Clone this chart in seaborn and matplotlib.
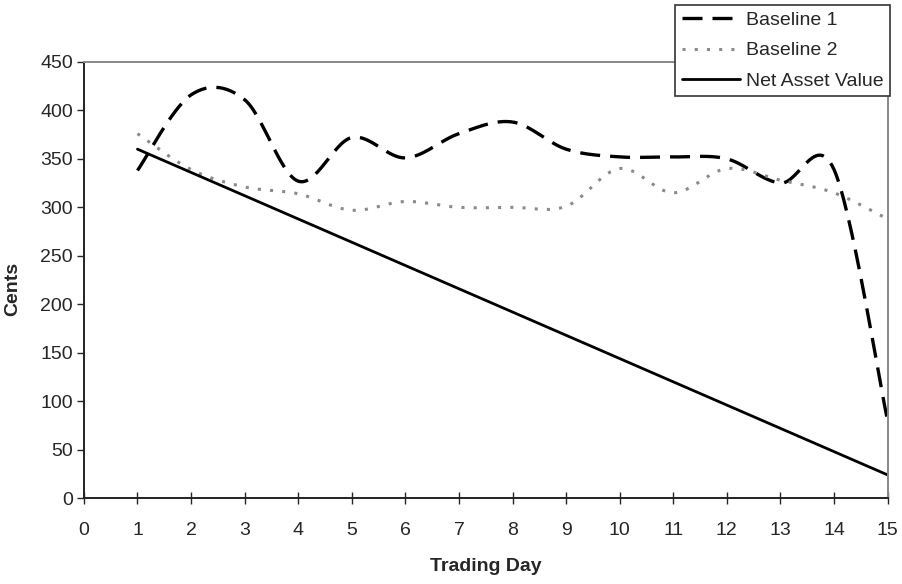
import numpy as np
import pandas as pd
import matplotlib
matplotlib.use("Agg")
import matplotlib.pyplot as plt
import seaborn as sns

# values (one per trading day)
days = np.arange(1, 16)
baseline1 = [338, 416, 411, 327, 372, 351, 376, 388, 360, 352, 352, 350, 325, 339, 80]
baseline2 = [376, 339, 321, 314, 297, 306, 300, 300, 301, 340, 315, 340, 328, 315, 288]
nav = [360, 336, 312, 288, 264, 240, 216, 192, 168, 144, 120, 96, 72, 48, 24]


# Excel style smoothed line (Catmull-Rom through the points)
def smooth(x, y, n=30):
    x = np.asarray(x, float)
    y = np.asarray(y, float)
    px = np.concatenate([[x[0]], x, [x[-1]]])
    py = np.concatenate([[y[0]], y, [y[-1]]])
    xs, ys = [], []
    t = np.linspace(0, 1, n, endpoint=False)
    for i in range(1, len(px) - 2):
        for p, out in ((px, xs), (py, ys)):
            p0, p1, p2, p3 = p[i - 1], p[i], p[i + 1], p[i + 2]
            out.extend(0.5 * ((2 * p1) + (-p0 + p2) * t
                              + (2 * p0 - 5 * p1 + 4 * p2 - p3) * t ** 2
                              + (-p0 + 3 * p1 - 3 * p2 + p3) * t ** 3))
    xs.append(x[-1])
    ys.append(y[-1])
    return np.array(xs), np.array(ys)


sns.set_style("white")
plt.rcParams["font.family"] = ["Liberation Sans", "DejaVu Sans"]

fig = plt.figure(figsize=(9.02, 5.84), dpi=100)
ax = fig.add_axes([0.093, 0.147, 0.891, 0.747])

x1, y1 = smooth(days, baseline1)
x2, y2 = smooth(days, baseline2)

sns.lineplot(x=x1, y=y1, ax=ax, color="black", lw=2.4,
             label="Baseline 1", sort=False).lines[-1].set_dashes([6, 3])
sns.lineplot(x=x2, y=y2, ax=ax, color="#8a8a8a", lw=2.2,
             label="Baseline 2", sort=False).lines[-1].set_dashes([1, 3])
sns.lineplot(x=days, y=nav, ax=ax, color="black", lw=2, label="Net Asset Value")

ax.set_xlim(0, 15)
ax.set_ylim(0, 450)
ax.set_xticks(range(0, 16))
ax.set_yticks(range(0, 451, 50))
ax.tick_params(axis="x", direction="inout", length=8, width=1, labelsize=14, pad=13)
ax.tick_params(axis="y", direction="out", length=5, width=1, labelsize=14, pad=3)
ax.tick_params(left=True, bottom=True)

for side in ["left", "bottom"]:
    ax.spines[side].set_color("#222222")
    ax.spines[side].set_linewidth(1.4)
for side in ["top", "right"]:
    ax.spines[side].set_color("#888888")
    ax.spines[side].set_linewidth(1.4)

ax.set_xlabel("Trading Day", fontsize=14, fontweight="bold", labelpad=14)
ax.set_ylabel("Cents", fontsize=14, fontweight="bold")
ax.yaxis.set_label_coords(-0.078, 0.48)

leg = ax.legend(loc="upper right", bbox_to_anchor=(0.987, 0.992),
                bbox_transform=fig.transFigure, fontsize=14, frameon=True,
                fancybox=False, edgecolor="#333333", handlelength=3.0,
                handletextpad=0.3, borderpad=0.35, labelspacing=0.65, borderaxespad=0)
leg.get_frame().set_linewidth(1.2)
leg.get_frame().set_alpha(1)

fig.savefig("out.png", dpi=100)
